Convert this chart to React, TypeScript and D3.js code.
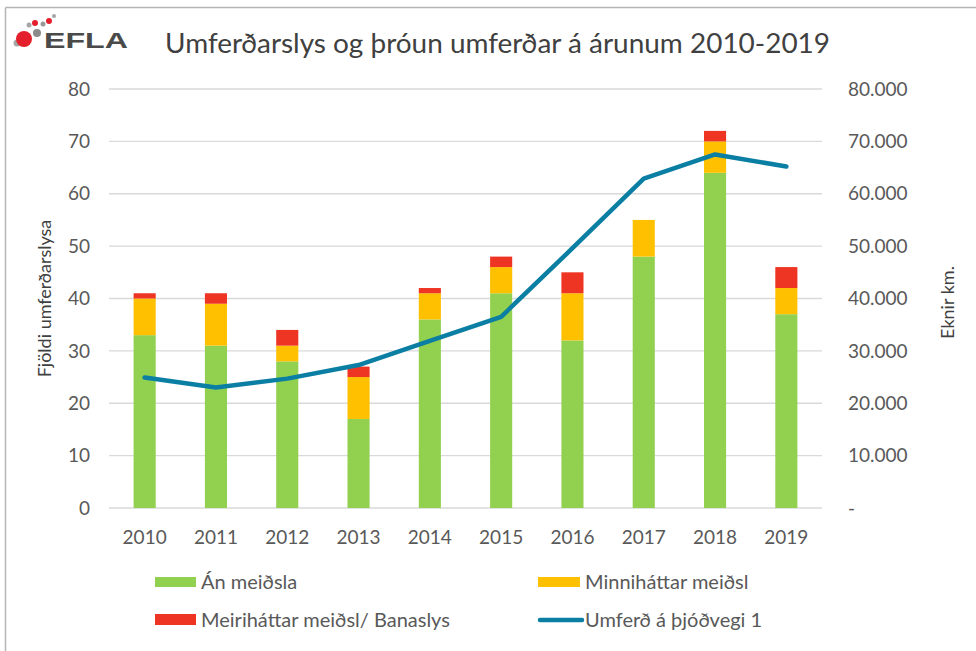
import React from "react";
import * as d3 from "d3";

const years = ["2010","2011","2012","2013","2014","2015","2016","2017","2018","2019"];
const anMeidsla = [33, 31, 28, 17, 36, 41, 32, 48, 64, 37];
const minnihattar = [7, 8, 3, 8, 5, 5, 9, 7, 6, 5];
const meirihattar = [1, 2, 3, 2, 1, 2, 4, 0, 2, 4];
const umferd = [24900, 23000, 24700, 27300, 31900, 36500, 49600, 62900, 67500, 65200];
const leftTicks = [0, 10, 20, 30, 40, 50, 60, 70, 80];
const rightTicks = [0, 10000, 20000, 30000, 40000, 50000, 60000, 70000, 80000];
const seriesNames = ["Án meiðsla", "Minniháttar meiðsl", "Meiriháttar meiðsl/ Banaslys", "Umferð á þjóðvegi 1"];
const colors = ["#92D050", "#FFC000", "#EE3524", "#0B7FA3"];

const W = 976, H = 651;
const plot = { left: 109, right: 822, top: 89, bottom: 508 };
const FONT = "Lato, 'Open Sans', sans-serif";
const TXT = "#595959";
const FS = 19;

export default function App() {
  const x = d3.scaleBand<string>().domain(years).range([plot.left, plot.right]).paddingInner(0.69).paddingOuter(0.345);
  const yL = d3.scaleLinear().domain([0, 80]).range([plot.bottom, plot.top]);
  const yR = d3.scaleLinear().domain([0, 80000]).range([plot.bottom, plot.top]);

  const rows = years.map((y, i) => ({ year: y, a: anMeidsla[i], b: minnihattar[i], c: meirihattar[i] }));
  const stack = d3.stack<any>().keys(["a", "b", "c"])(rows);

  const line = d3.line<number>()
    .x((_, i) => (x(years[i]) as number) + x.bandwidth() / 2)
    .y((d) => yR(d));

  const fmtR = (v: number) => (v === 0 ? "-" : d3.format(",")(v).replace(/,/g, "."));

  return (
    <div style={{ position: "absolute", left: 0, top: 0 }}>
      <svg width={W} height={H} style={{ display: "block", background: "#fff" }}>
        {/* border */}
        <line x1={5.5} y1={7.5} x2={W} y2={7.5} stroke="#b5b5b5" strokeWidth={1.5} />
        <line x1={5.5} y1={7.5} x2={5.5} y2={H} stroke="#b5b5b5" strokeWidth={1.5} />

        {/* logo */}
        <g>
          <circle cx={17} cy={43} r={3.5} fill="#a6a6a6" />
          <circle cx={24} cy={39} r={8} fill="#E3202C" />
          <circle cx={37} cy={33} r={4} fill="#8c8c8c" />
          <circle cx={35} cy={23} r={3} fill="#E3202C" />
          <circle cx={43} cy={24} r={2.5} fill="#9a9a9a" />
          <circle cx={49} cy={21} r={3} fill="#E3202C" />
          <circle cx={54} cy={16} r={2} fill="#a6a6a6" />
          <circle cx={29} cy={25} r={2.5} fill="#a6a6a6" />
          <text x={44} y={48} fontFamily="'Liberation Sans', Arial, sans-serif" fontWeight="bold" fontSize={22}
            fill="#4a4a4a" textLength={84} lengthAdjust="spacingAndGlyphs">EFLA</text>
        </g>

        {/* title */}
        <text x={165} y={53} fontFamily={FONT} fontSize={26} fill="#404040" textLength={665} lengthAdjust="spacingAndGlyphs">
          Umferðarslys og þróun umferðar á árunum 2010-2019
        </text>

        {/* grid */}
        {leftTicks.map((t) => (
          <line key={t} x1={plot.left} x2={plot.right} y1={yL(t)} y2={yL(t)} stroke="#d9d9d9" strokeWidth={1.3} />
        ))}

        {/* left ticks */}
        {leftTicks.map((t) => (
          <text key={t} x={90} y={yL(t)} dy="0.35em" textAnchor="end" fontFamily={FONT} fontSize={FS} fill={TXT}>{t}</text>
        ))}
        {/* right ticks */}
        {rightTicks.map((t) => (
          <text key={t} x={848} y={yR(t)} dy="0.35em" textAnchor="start" fontFamily={FONT} fontSize={FS} fill={TXT}>{fmtR(t)}</text>
        ))}

        {/* axis titles */}
        <text transform={`translate(45,${(plot.top + plot.bottom) / 2}) rotate(-90)`} textAnchor="middle" dy="0.35em"
          fontFamily={FONT} fontSize={18} fill="#404040">Fjöldi umferðarslysa</text>
        <text transform={`translate(948,${(plot.top + plot.bottom) / 2 + 4}) rotate(-90)`} textAnchor="middle" dy="0.35em"
          fontFamily={FONT} fontSize={18} fill="#404040">Eknir km.</text>

        {/* bars */}
        {stack.map((s, si) => (
          <g key={si} fill={colors[si]}>
            {s.map((d: any, i: number) => (
              d[1] - d[0] > 0 ? (
                <rect key={i} x={x(years[i])} width={x.bandwidth()} y={yL(d[1])} height={yL(d[0]) - yL(d[1])} />
              ) : null
            ))}
          </g>
        ))}

        {/* line */}
        <path d={line(umferd) || ""} fill="none" stroke={colors[3]} strokeWidth={4.5} strokeLinejoin="round" strokeLinecap="round" />

        {/* x labels */}
        {years.map((y) => (
          <text key={y} x={(x(y) as number) + x.bandwidth() / 2} y={537} dy="0.35em" textAnchor="middle" fontFamily={FONT} fontSize={FS} fill={TXT}>{y}</text>
        ))}

        {/* legend */}
        <g fontFamily={FONT} fontSize={20} fill={TXT}>
          <rect x={155} y={577} width={41} height={10} fill={colors[0]} />
          <text x={201} y={582} dy="0.35em">{seriesNames[0]}</text>
          <rect x={538} y={577} width={42} height={10} fill={colors[1]} />
          <text x={585} y={582} dy="0.35em">{seriesNames[1]}</text>
          <rect x={155} y={614} width={41} height={11} fill={colors[2]} />
          <text x={201} y={620} dy="0.35em">{seriesNames[2]}</text>
          <line x1={540} x2={582} y1={620} y2={620} stroke={colors[3]} strokeWidth={4.5} strokeLinecap="round" />
          <text x={585} y={620} dy="0.35em">{seriesNames[3]}</text>
        </g>
      </svg>
    </div>
  );
}
